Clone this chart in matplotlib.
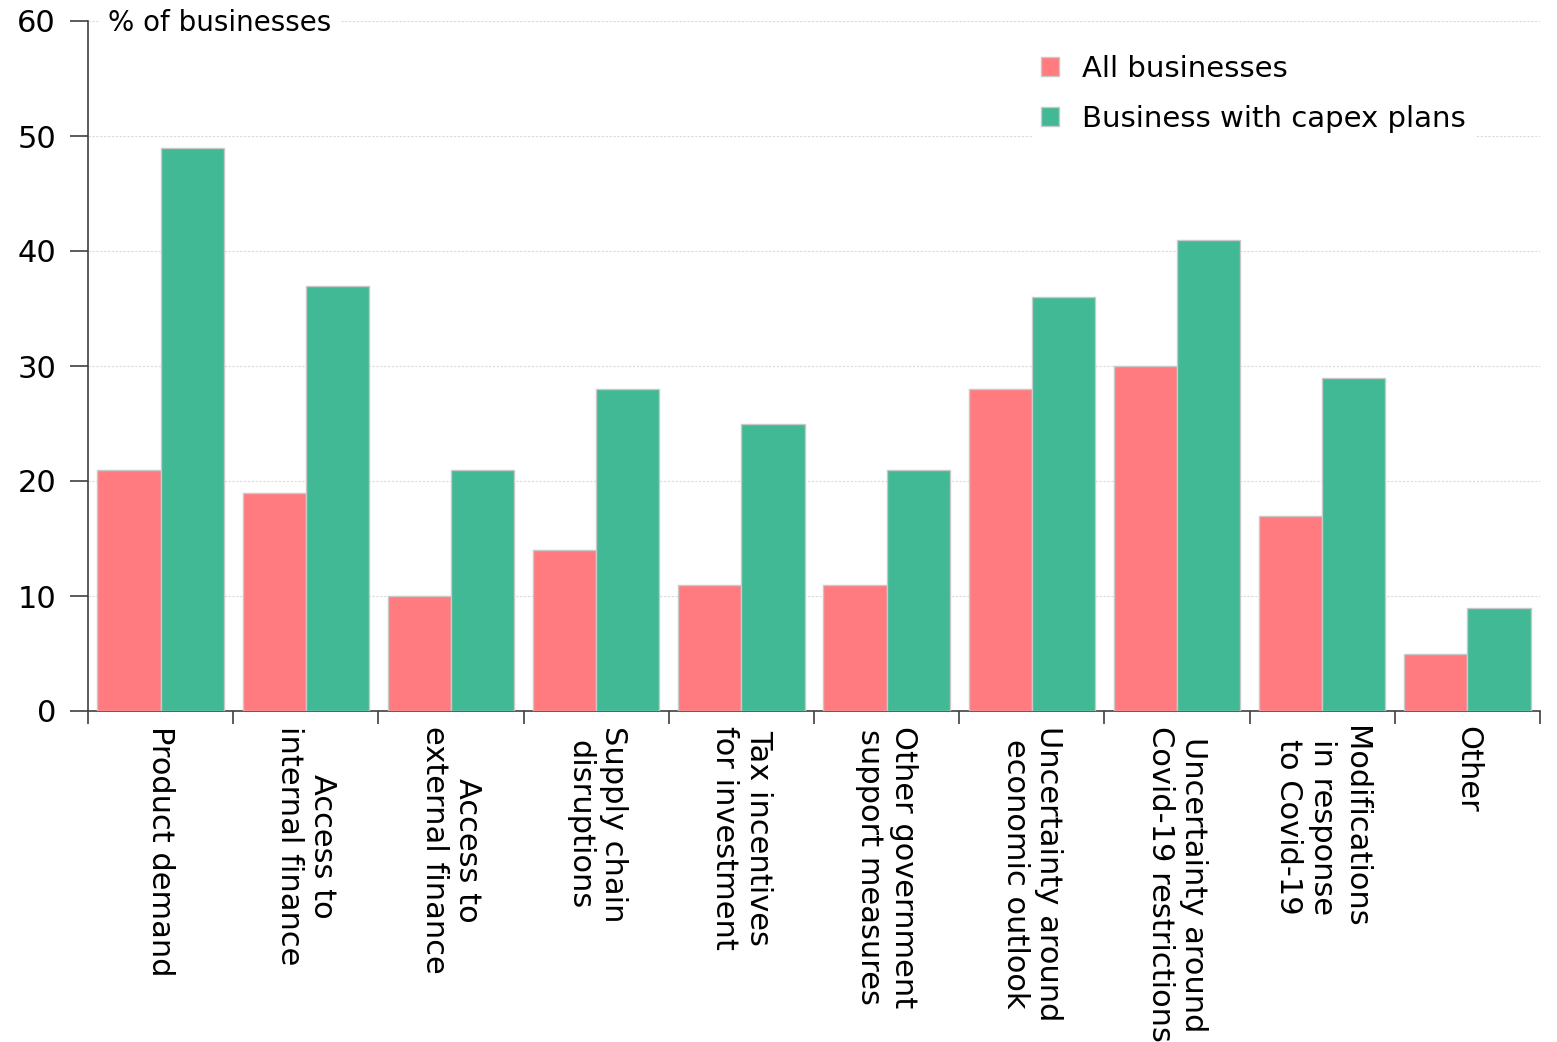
import matplotlib
matplotlib.use("Agg")
import matplotlib.pyplot as plt
import numpy as np

categories = [
    "Product demand",
    "Access to\ninternal finance",
    "Access to\nexternal finance",
    "Supply chain\ndisruptions",
    "Tax incentives\nfor investment",
    "Other government\nsupport measures",
    "Uncertainty around\neconomic outlook",
    "Uncertainty around\nCovid-19 restrictions",
    "Modifications\nin response\nto Covid-19",
    "Other",
]
all_businesses = [21, 19, 10, 14, 11, 11, 28, 30, 17, 5]
capex_businesses = [49, 37, 21, 28, 25, 21, 36, 41, 29, 9]
series_names = ["All businesses", "Business with capex plans"]
yticks = [0, 10, 20, 30, 40, 50, 60]

plt.rcParams['font.family'] = ['DejaVu Sans']

fig = plt.figure(figsize=(15.57, 10.42), dpi=100)
ax = fig.add_axes([88/1557, 1-711/1042, (1540-88)/1557, (711-21)/1042])

x = np.arange(len(categories))
w = 0.435
ax.bar(x - w/2, all_businesses, w, color="#FF7B80", edgecolor="#c8c8c8", linewidth=1, label=series_names[0], zorder=3)
ax.bar(x + w/2, capex_businesses, w, color="#42B995", edgecolor="#c8c8c8", linewidth=1, label=series_names[1], zorder=3)

ax.set_xlim(-0.5, len(categories) - 0.5)
ax.set_ylim(0, 60)
ax.set_yticks(yticks)
ax.yaxis.grid(True, color="#d9d9d9", linestyle=(0, (2, 1.5)), linewidth=0.8, zorder=0)
ax.set_axisbelow(True)

for s in ["top", "right"]:
    ax.spines[s].set_visible(False)
for s in ["left", "bottom"]:
    ax.spines[s].set_color("#404040")
    ax.spines[s].set_linewidth(1.2)

ax.tick_params(axis="y", labelsize=22, length=13, width=1.2, color="#404040", pad=10)
ax.set_xticks(np.arange(-0.5, len(categories), 1.0))
ax.set_xticklabels([])
ax.tick_params(axis="x", which="major", length=9, width=1.2, color="#404040")
ax.set_xticks(x, minor=True)
ax.set_xticklabels(categories, minor=True, rotation=270, ha="center", va="top",
                   multialignment="center", fontsize=22, linespacing=1.2)
ax.tick_params(axis="x", which="minor", length=0, pad=11)

ax.text(0.014, 0.997, "% of businesses", transform=ax.transAxes, fontsize=20,
        ha="left", va="center", zorder=5,
        bbox=dict(facecolor="white", edgecolor="none", pad=6))

leg = ax.legend(loc="upper right", bbox_to_anchor=(0.965, 0.985), fontsize=21, frameon=True,
                framealpha=1, edgecolor="none", handlelength=0.6, handleheight=0.6,
                handletextpad=0.8, labelspacing=0.75, borderpad=0.3)
leg.set_zorder(5)

fig.savefig("out.png", dpi=100)
